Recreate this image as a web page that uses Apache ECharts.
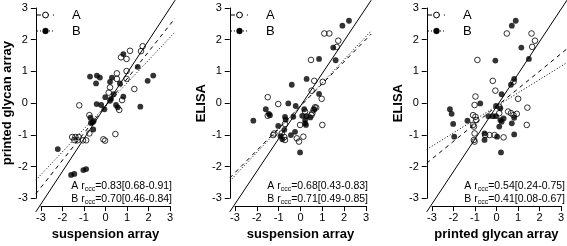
<!DOCTYPE html>
<html><head><meta charset="utf-8">
<script src="https://cdn.jsdelivr.net/npm/echarts@6/dist/echarts.min.js"></script>
<style>html,body{margin:0;padding:0;background:#fff}#c{width:567px;height:246px}</style>
</head><body><div id="c"></div>
<script>
// ---------- data ----------
const tickValues = [-3, -2, -1, 0, 1, 2, 3];
const groupNames = ['A', 'B'];
const xTitles = ['suspension array', 'suspension array', 'printed glycan array'];
const yTitles = ['printed glycan array', 'ELISA', 'ELISA'];
const rcccA = [0.83, 0.68, 0.54];
const ciA = ['0.68-0.91', '0.43-0.83', '0.24-0.75'];
const rcccB = [0.70, 0.71, 0.41];
const ciB = ['0.46-0.84', '0.49-0.85', '0.08-0.67'];

const p1A = [[1.73,1.83],[1.65,1.68],[1.14,1.69],[0.72,1.49],[0.98,1.44],[0.98,1.07],[0.53,1.00],[0.53,0.83],[0.98,0.83],[0.21,0.57],[0.15,0.41],[1.34,0.52],[0.77,0.18],[-1.22,0.02],[0.64,-0.12],[-0.75,-0.28],[-0.75,-0.84],[-1.55,-0.95],[-1.40,-0.95],[-1.25,-0.95],[-1.45,-1.04],[-1.30,-1.05],[-1.05,-1.05],[-0.90,-1.05],[-0.10,-1.02],[-0.02,-1.06],[0.46,-0.86]];
const p1B = [[0.83,1.59],[1.50,1.20],[2.22,0.93],[1.96,0.77],[-0.72,0.90],[-0.40,0.93],[-0.26,0.87],[-0.44,0.69],[0.21,0.74],[0.30,0.87],[0.67,0.69],[-0.01,0.27],[0.38,0.36],[0.26,0.22],[0.21,0.16],[0.83,0.29],[-0.41,0.06],[-0.20,0.03],[-0.05,-0.10],[0.49,0.03],[0.57,-0.04],[1.62,-0.02],[-0.70,-0.36],[-0.68,-0.52],[-0.60,-0.50],[-0.55,-0.46],[-0.57,-0.72],[-2.22,-1.32],[-1.03,-1.96],[-0.90,-1.93],[-1.60,-2.11],[-1.45,-2.08]];
const p2A = [[1.09,2.22],[1.32,2.22],[1.73,2.00],[1.66,1.81],[0.48,1.41],[0.63,0.77],[1.02,0.74],[0.51,0.47],[0.97,0.22],[-1.50,0.27],[-1.02,0.06],[0.66,-0.04],[0.21,-0.17],[0.54,-0.22],[0.50,-0.28],[-1.50,-0.30],[-0.02,-0.58],[1.00,-0.58],[-0.71,-0.55],[-0.86,-0.84],[-1.25,-0.89],[-1.20,-0.84],[-0.74,-0.95],[-0.71,-1.04],[-0.17,-0.99],[0.13,-0.94],[-0.07,-1.09],[0.72,-0.05],[0.60,-0.12]];
const p2B = [[2.22,2.61],[1.92,2.46],[1.50,1.79],[1.61,1.40],[0.85,1.44],[0.28,0.83],[-0.40,0.65],[0.85,0.37],[-0.56,0.08],[-0.22,0.00],[-1.59,-0.10],[-1.45,-0.24],[-1.40,-0.28],[-2.16,-0.45],[-0.71,-0.33],[-0.68,-0.42],[-0.33,-0.33],[0.17,-0.10],[0.63,-0.10],[0.08,-0.30],[0.28,-0.31],[0.21,-0.43],[0.21,-0.53],[0.25,-0.58],[0.45,-0.35],[-1.02,-0.61],[-0.74,-0.73],[-0.25,-0.79],[-0.44,-0.89],[-0.83,-1.02],[-0.92,-0.92],[-0.02,-1.42]];
const p3A = [[0.46,2.22],[1.60,2.22],[1.76,2.00],[1.63,1.81],[-0.90,1.41],[-0.19,0.77],[-0.07,0.47],[0.77,0.74],[0.98,0.22],[-0.99,0.29],[-1.03,0.03],[1.41,-0.05],[0.11,-0.02],[-1.10,-0.28],[-0.99,-0.33],[-0.95,-0.43],[-1.10,-0.58],[-1.06,-0.63],[-1.03,-0.84],[-1.06,-1.04],[-1.03,-1.09],[0.11,-0.22],[0.52,-0.17],[0.65,-0.22],[0.77,-0.28],[0.92,-0.24],[1.38,-0.58],[0.31,-0.96],[-0.11,-0.89],[-0.34,-0.89],[-0.54,-0.89]];
const p3B = [[0.87,2.61],[0.69,2.46],[1.13,1.79],[1.48,1.44],[-0.07,1.39],[0.80,0.83],[0.65,0.65],[0.22,0.36],[-0.77,0.08],[-0.04,0.00],[0.16,-0.07],[-2.17,-0.10],[-2.09,-0.24],[-2.02,-0.55],[-1.97,-0.94],[-1.36,-0.45],[-0.39,-0.31],[-0.19,-0.31],[-0.04,-0.31],[0.16,-0.43],[0.31,-0.38],[0.22,-0.48],[0.11,-0.63],[0.69,-0.53],[0.80,-0.36],[0.80,-0.87],[0.01,-0.94],[-0.57,-0.84],[-0.57,-1.04],[0.19,-1.42]];

const panelA = [p1A, p2A, p3A];
const panelB = [p1B, p2B, p3B];

// ---------- layout ----------
const FONT = 'Liberation Sans, Arial, Helvetica, sans-serif';
const axisLeft = [41, 235, 432];
const axisWidth = [129, 131, 131];
const axisTop = 8, axisHeight = 196;
const lo = tickValues[0], hi = tickValues[tickValues.length - 1];
const pad = 0.04 * (hi - lo);
const padFrac = pad / (hi - lo);
const dashes = [[4, 4], [1, 2]];
const markerStyles = [
  {color: 'rgba(0,0,0,0)', borderColor: '#000', borderWidth: 1},
  {color: '#000'}
];

const grid = [], xAxis = [], yAxis = [], series = [], graphic = [];

for (let i = 0; i < 3; i++) {
  const L = axisLeft[i], W = axisWidth[i];
  grid.push({left: L - W * padFrac, top: axisTop - axisHeight * padFrac,
             width: W * (1 + 2 * padFrac), height: axisHeight * (1 + 2 * padFrac)});
  grid.push({left: L, top: axisTop, width: W, height: axisHeight});
  const dg = 2 * i, ag = 2 * i + 1;
  xAxis.push({gridIndex: dg, type: 'value', min: lo - pad, max: hi + pad, show: false});
  yAxis.push({gridIndex: dg, type: 'value', min: lo - pad, max: hi + pad, show: false});
  xAxis.push({
    gridIndex: ag, type: 'value', min: lo, max: hi, interval: 1, position: 'bottom',
    offset: axisHeight * padFrac,
    axisLine: {show: true, onZero: false, lineStyle: {color: '#000', width: 1}},
    axisTick: {show: true, length: 5, lineStyle: {color: '#000', width: 1}},
    axisLabel: {color: '#000', fontSize: 11, fontFamily: FONT, margin: 6},
    splitLine: {show: false},
    name: xTitles[i], nameLocation: 'middle', nameGap: 19,
    nameTextStyle: {color: '#000', fontSize: 13, fontWeight: 'bold', fontFamily: FONT}
  });
  yAxis.push({
    gridIndex: ag, type: 'value', min: lo, max: hi, interval: 1, position: 'left',
    offset: W * padFrac,
    axisLine: {show: true, onZero: false, lineStyle: {color: '#000', width: 1}},
    axisTick: {show: true, length: 5, lineStyle: {color: '#000', width: 1}},
    axisLabel: {color: '#000', fontSize: 11, fontFamily: FONT, margin: 8},
    splitLine: {show: false},
    name: yTitles[i], nameLocation: 'middle', nameGap: 20,
    nameTextStyle: {color: '#000', fontSize: 13, fontWeight: 'bold', fontFamily: FONT}
  });
  const xi = 2 * i, yi = 2 * i;
  const ends = [lo - pad, hi + pad];
  const slopes = [rcccA[i], rcccB[i]];
  for (let g = 0; g < 2; g++) {
    series.push({
      type: 'line', name: groupNames[g] + ' fit', xAxisIndex: xi, yAxisIndex: yi,
      data: ends.map(x => [x, slopes[g] * x]),
      symbol: 'none', clip: true, silent: true,
      lineStyle: {color: '#000', width: 1, type: dashes[g]}, z: 3
    });
  }
  series.push({
    type: 'line', name: 'identity', xAxisIndex: xi, yAxisIndex: yi,
    data: ends.map(x => [x, x]), symbol: 'none', clip: true, silent: true,
    lineStyle: {color: '#000', width: 1, type: 'solid'}, z: 3
  });
  const pts = [panelA[i], panelB[i]];
  for (let g = 0; g < 2; g++) {
    series.push({
      type: 'scatter', name: groupNames[g], xAxisIndex: xi, yAxisIndex: yi,
      data: pts[g], symbol: 'circle', symbolSize: g === 0 ? 5.6 : 5.8,
      itemStyle: markerStyles[g], z: 4
    });
  }
  // legend (drawn as graphic: line + symbol + label)
  for (let g = 0; g < 2; g++) {
    const ly = 15 + g * 16;
    graphic.push({type: 'line', silent: true,
      shape: {x1: L - 4, y1: ly, x2: L + 13, y2: ly},
      style: {stroke: '#000', lineWidth: 1, lineDash: dashes[g]}});
    graphic.push({type: 'circle', silent: true,
      shape: {cx: L + 4.5, cy: ly, r: 2.9},
      style: g === 0 ? {fill: '#fff', stroke: '#000', lineWidth: 1} : {fill: '#000', stroke: '#000', lineWidth: 0.5}});
    graphic.push({type: 'text', silent: true, x: L + 31, y: ly,
      style: {text: groupNames[g], fill: '#000', font: '13px ' + FONT, align: 'left', verticalAlign: 'middle'}});
  }
  const rA = [rcccA[i], rcccB[i]], ci = [ciA[i], ciB[i]];
  for (let g = 0; g < 2; g++) {
    graphic.push({
      type: 'text', x: L + W + 2, y: 186 + g * 13, silent: true,
      style: {
        text: groupNames[g] + ' r{s|ccc}=' + rA[g].toFixed(2) + '[' + ci[g] + ']',
        fill: '#000', font: '10.5px ' + FONT, align: 'right', verticalAlign: 'middle',
        lineHeight: 13,
        rich: {s: {fontSize: 7, lineHeight: 7, fontFamily: FONT, fill: '#000', verticalAlign: 'bottom'}}
      }
    });
  }
}

const chart = echarts.init(document.getElementById('c'), null, {renderer: 'canvas'});
chart.setOption({
  animation: false,
  backgroundColor: '#fff',
  textStyle: {fontFamily: FONT},
  grid, xAxis, yAxis, series, graphic
});
</script></body></html>
